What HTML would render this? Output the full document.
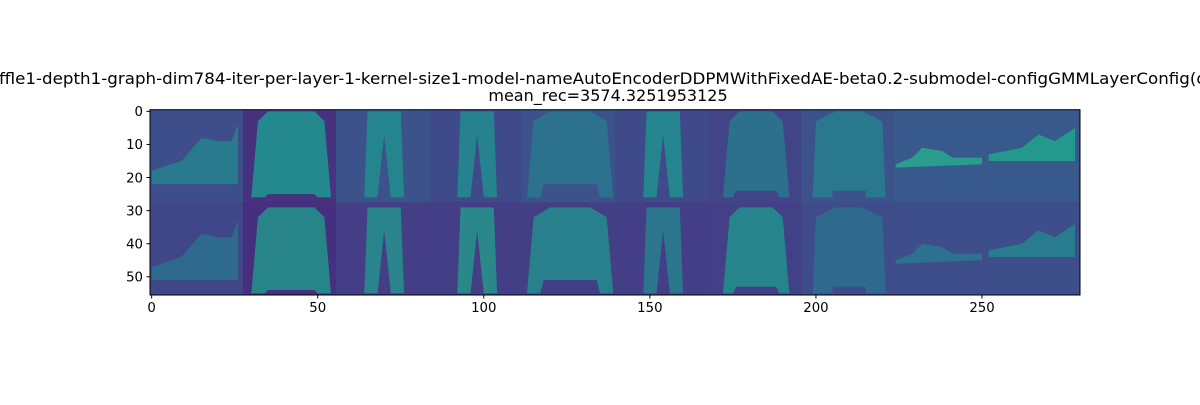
<!DOCTYPE html>
<html><head><meta charset="utf-8"><style>
body{margin:0;background:#fff;width:1200px;height:400px;overflow:hidden}
svg{font-family:"DejaVu Sans","Liberation Sans",sans-serif}
</style></head><body>
<svg id="fig" width="1200" height="400" viewBox="0 0 1200 400" xmlns="http://www.w3.org/2000/svg">
<rect width="1200" height="400" fill="#fff"/>
<text x="-1" y="84" text-anchor="start" textLength="1208" lengthAdjust="spacingAndGlyphs" font-size="16" fill="#000">ffle1-depth1-graph-dim784-iter-per-layer-1-kernel-size1-model-nameAutoEncoderDDPMWithFixedAE-beta0.2-submodel-configGMMLayerConfig(d</text>
<text x="608" y="101" text-anchor="middle" font-size="16" fill="#000">mean_rec=3574.3251953125</text>
<defs><clipPath id="ax"><rect x="150" y="109.7" width="930" height="185.3"/></clipPath></defs>
<g id="img" clip-path="url(#ax)"></g>
<rect x="150" y="109.7" width="930" height="185.3" fill="none" stroke="#000" stroke-width="1"/>
<g id="ticks"></g>
</svg>
<script>
const xTicks=[0,50,100,150,200,250];
const yTicks=[0,10,20,30,40,50];
const kinds=["boot","sweater","trousers","trousers","shirt","trousers","jacket","plaid","sandal","sneaker"];
const topBg=["#3d4e8a","#46327e","#3b528b","#3e4a89","#3b528b","#3e4a89","#414487","#3b528b","#38598c","#38598c"];
const botBg=["#404788","#462f7e","#433e85","#433e85","#423f85","#433e85","#424086","#3e4c8a","#3d4e8a","#3d4e8a"];
const topFg=["#297a8e","#23898e","#25858e","#26828e","#2c718e","#25858e","#2d708e","#2a788e","#2a9d8f","#23988d"];
const botFg=["#2c718e","#22948c","#26908c","#26958b","#228c8d","#27808e","#21908d","#2d708e","#2a788e","#25858e"];
const X0=-0.5,X1=279.5,Y0=-0.5,Y1=55.5,L=150,R=1080,T=109.7,B=295;
const sx=v=>L+(v-X0)/(X1-X0)*(R-L);
const sy=v=>T+(v-Y0)/(Y1-Y0)*(B-T);
const NS="http://www.w3.org/2000/svg";
const shapes={
 boot:[[0,18],[9,15],[15,8],[20,9],[24,9],[26,4],[26,22],[0,22]],
 sweater:[[7,0],[21,0],[24,3],[26,26],[22,26],[21,25],[7,25],[6,26],[2,26],[4,3]],
 trousers:[[9,0],[19,0],[20,26],[16,26],[14,7],[12,26],[8,26]],
 shirt:[[8,0],[20,0],[25,3],[27,26],[23,26],[22,22],[6,22],[5,26],[1,26],[3,3]],
 jacket:[[9,0],[19,0],[22,3],[24,26],[21,26],[20,24],[8,24],[7,26],[4,26],[6,3]],
 plaid:[[10,0],[18,0],[24,3],[25,26],[19,26],[19,24],[9,24],[9,26],[3,26],[4,3]],
 sandal:[[0,16],[5,14],[8,11],[14,12],[17,14],[26,14],[26,16],[0,17]],
 sneaker:[[0,13],[10,11],[15,7],[20,9],[26,5],[26,15],[0,15]]
};
const g=document.getElementById('img');
function poly(pts,ox,oy,fill,op,name){
 const p=document.createElementNS(NS,'polygon');
 p.setAttribute('points',pts.map(q=>sx(ox+q[0])+','+sy(oy+q[1])).join(' '));
 p.setAttribute('fill',fill);p.setAttribute('opacity',op);
 
 
 g.appendChild(p);
}
kinds.forEach((k,i)=>{
 [[0,topBg,topFg],[28,botBg,botFg]].forEach(([oy,bg,fg],r)=>{
  const c=document.createElementNS(NS,'rect');
  c.setAttribute('x',sx(i*28-0.5));c.setAttribute('y',sy(oy-0.5));
  c.setAttribute('width',sx(i*28+27.5)-sx(i*28-0.5)+0.5);c.setAttribute('height',sy(oy+27.5)-sy(oy-0.5)+0.5);
  c.setAttribute('fill',bg[i]);
  
  
  g.appendChild(c);
  poly(shapes[k],i*28,oy+(r?1:0),fg[i],r?0.85:1,'tile-'+k);
 });
});
const t=document.getElementById('ticks');
function add(tag,attrs,text,name){const e=document.createElementNS(NS,tag);for(const a in attrs)e.setAttribute(a,attrs[a]);if(text!==undefined)e.textContent=text;
 
 
 t.appendChild(e);}
xTicks.forEach(v=>{add('line',{x1:sx(v),x2:sx(v),y1:B,y2:B+3.5,stroke:'#000'},undefined,'x-tick');
 add('text',{x:sx(v),y:B+17,'text-anchor':'middle','font-size':13.3},String(v),'x-tick-label');});
yTicks.forEach(v=>{add('line',{x1:L-3.5,x2:L,y1:sy(v),y2:sy(v),stroke:'#000'},undefined,'y-tick');
 add('text',{x:L-7,y:sy(v)+4.8,'text-anchor':'end','font-size':13.3},String(v),'y-tick-label');});
</script>
</body></html>
